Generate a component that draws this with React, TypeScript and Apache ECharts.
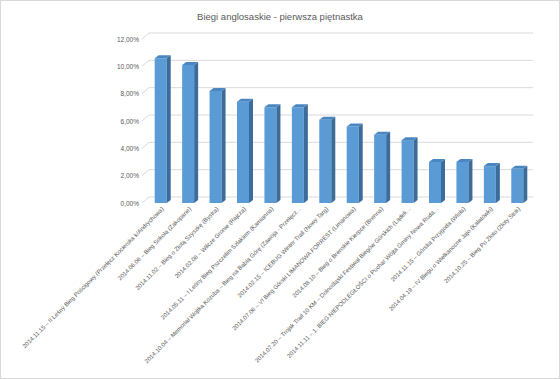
import React, { useEffect, useRef } from "react";
import * as echarts from "echarts";

const categories: string[] = [
  "2014.11.15 – II Leśny Bieg Pościgowy (Przełęcz Kocierska k/Andrychowa)",
  "2014.06.06 – Bieg Sokoła (Zakopane)",
  "2014.11.02 – Bieg o Złotą Szyszkę (Bystra)",
  "2014.02.08 – Wilcze Gronie (Rajcza)",
  "2014.05.11 – I Leśny Bieg Pszczelim Szlakiem (Kamianna)",
  "2014.10.04 – Memoriał Wojtka Kozuba – Bieg na Babią Górę (Zawoja - Przełęcz...",
  "2014.02.15 – ICEBUG Winter Trail (Nowy Targ)",
  "2014.07.06 – VI Bieg Górski LIMANOWA FORREST (Limanowa)",
  "2014.08.10 – Bieg o Brenskie Kierpce (Brenna)",
  "2014.07.20 – Trojak Trail 10 KM – Dolnośląski Festiwal Biegów Górskich (Lądek...",
  "2014.11.11 – 1. BIEG NIEPODLEGŁOŚCI o Puchar Wójta Gminy Nowa Ruda...",
  "2014.11.15 – Górska Przygoda (Wisła)",
  "2014.04.19 – IV Biegu o Wielkanocne Jajo (Kalatówki)",
  "2014.10.25 – Bieg Po Złoto (Złoty Stok)",
];

const shares: number[] = [10.6, 10.1, 8.2, 7.4, 7.0, 7.0, 6.1, 5.6, 5.0, 4.6, 3.0, 3.0, 2.7, 2.5];

const yTicks: number[] = [0, 2, 4, 6, 8, 10, 12];

const title = "Biegi anglosaskie - pierwsza piętnastka";

const FONT = "'Liberation Sans', Arial, sans-serif";

export default function App() {
  const ref = useRef<HTMLDivElement>(null);
  useEffect(() => {
    if (!ref.current) return;
    const chart = echarts.init(ref.current, null, { renderer: "svg" });
    const option: any = {
      animation: false,
      backgroundColor: "#ffffff",
      title: {
        text: title,
        left: "center",
        top: 5,
        textStyle: { fontFamily: FONT, fontSize: 9.5, fontWeight: "normal", color: "#595959" },
      },
      grid: { left: 148, right: 26, top: 38, bottom: 175, containLabel: false },
      xAxis: {
        type: "category",
        data: categories,
        axisLine: { show: false },
        axisTick: { show: false },
        axisLabel: {
          interval: 0,
          rotate: 45,
          fontSize: 6,
          fontFamily: FONT,
          color: "#595959",
          margin: 5,
        },
      },
      yAxis: {
        type: "value",
        min: 0,
        max: 12,
        interval: 2,
        axisLine: { show: false },
        axisTick: { show: false },
        splitLine: { show: false },
        axisLabel: {
          fontSize: 6.5,
          fontFamily: FONT,
          color: "#595959",
          margin: 10,
          formatter: (v: number) => v.toFixed(2).replace(".", ",") + "%",
        },
      },
      series: [
        {
          type: "custom",
          silent: true,
          z: 1,
          data: yTicks.map((t) => [0, t]),
          renderItem: (params: any, api: any) => {
            const cs = params.coordSys;
            const y = api.coord([0, api.value(1)])[1];
            return {
              type: "polyline",
              shape: {
                points: [
                  [cs.x - 7, y],
                  [cs.x, y - 6],
                  [cs.x + cs.width, y - 6],
                ],
              },
              style: { stroke: "#d9d9d9", lineWidth: 1, fill: "none" },
            };
          },
        },
        {
          type: "custom",
          z: 3,
          data: shares.map((v, i) => [i, v]),
          renderItem: (params: any, api: any) => {
            const top = api.coord([api.value(0), api.value(1)]);
            const base = api.coord([api.value(0), 0]);
            const w = 12;
            const d = 4;
            const dy = 3;
            const left = top[0] - w / 2 - d / 2;
            return {
              type: "group",
              children: [
                {
                  type: "rect",
                  shape: { x: left, y: top[1], width: w, height: base[1] - top[1] },
                  style: { fill: "#5b9bd5" },
                },
                {
                  type: "polygon",
                  shape: {
                    points: [
                      [left + w, top[1]],
                      [left + w + d, top[1] - dy],
                      [left + w + d, base[1] - dy],
                      [left + w, base[1]],
                    ],
                  },
                  style: { fill: "#3b6c9c" },
                },
                {
                  type: "polygon",
                  shape: {
                    points: [
                      [left, top[1]],
                      [left + d, top[1] - dy],
                      [left + w + d, top[1] - dy],
                      [left + w, top[1]],
                    ],
                  },
                  style: { fill: "#4a86bf" },
                },
              ],
            };
          },
        },
      ],
    };
    chart.setOption(option);
    return () => chart.dispose();
  }, []);
  return (
    <div
      ref={ref}
      style={{
        position: "absolute",
        left: 0,
        top: 0,
        width: 560,
        height: 379,
        boxSizing: "border-box",
        border: "1px solid #d9d9d9",
      }}
    />
  );
}
